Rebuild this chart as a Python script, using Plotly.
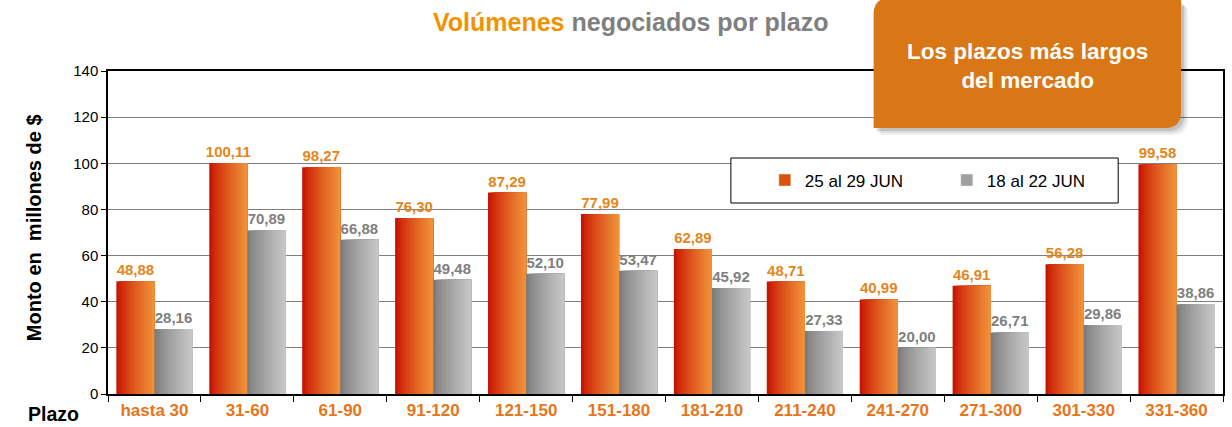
import plotly.graph_objects as go

categories = ["hasta 30", "31-60", "61-90", "91-120", "121-150", "151-180",
              "181-210", "211-240", "241-270", "271-300", "301-330", "331-360"]
serie_actual = [48.88, 100.11, 98.27, 76.30, 87.29, 77.99, 62.89, 48.71, 40.99, 46.91, 56.28, 99.58]
serie_anterior = [28.16, 70.89, 66.88, 49.48, 52.10, 53.47, 45.92, 27.33, 20.00, 26.71, 29.86, 38.86]
nombre_actual = "25 al 29 JUN"
nombre_anterior = "18 al 22 JUN"
y_ticks = [0, 20, 40, 60, 80, 100, 120, 140]

W, H = 1232, 427
ML, MR, MT, MB = 108, 7, 71, 33
PW = W - ML - MR
PH = H - MT - MB
FONT = "Liberation Sans, Arial, sans-serif"


def px(x):
    return (x - ML) / PW


def py(y):
    return (H - MB - y) / PH


def lerp(c1, c2, t):
    a = [int(c1[i:i + 2], 16) for i in (1, 3, 5)]
    b = [int(c2[i:i + 2], 16) for i in (1, 3, 5)]
    return "rgb(%d,%d,%d)" % tuple(round(a[k] + (b[k] - a[k]) * t) for k in range(3))


def fmt(v):
    return f"{v:.2f}".replace(".", ",")


fig = go.Figure()
BW = 0.41
N = 14
series = [
    (serie_actual, nombre_actual, -BW, "#C81400", "#F09038", "#D9530F", "#E3861B"),
    (serie_anterior, nombre_anterior, 0.0, "#7C7C7C", "#C6C6C6", "#A0A0A0", "#808080"),
]
for vals, name, off, c1, c2, cmid, tcol in series:
    for k in range(N):
        o = off + k * BW / N
        t = (k / (N - 1)) ** 0.8
        fig.add_trace(go.Bar(
            x=categories, y=vals, offset=o, width=[off + BW - o] * len(vals),
            marker=dict(color=lerp(c1, c2, t), line=dict(width=0)),
            showlegend=False, hoverinfo="skip", name=name,
        ))
    fig.add_trace(go.Bar(
        x=categories, y=vals, offset=off, width=[BW] * len(vals), name=name,
        marker=dict(color="rgba(0,0,0,0)", line=dict(width=0)),
        text=[fmt(v) for v in vals], textposition="outside", constraintext="none",
        cliponaxis=False, textfont=dict(family=FONT, size=15, color=tcol, weight="bold"),
        showlegend=False,
    ))
    fig.add_trace(go.Bar(
        x=[None], y=[None], name=name, marker=dict(color=cmid), showlegend=True,
    ))

shapes = []
shapes.append(dict(type="rect", xref="paper", yref="paper",
                   x0=px(732), x1=px(1120), y0=py(203), y1=py(158),
                   line=dict(color="black", width=1), fillcolor="white", layer="above"))


def callout_path(x0, y0, x1, y1, r1, r2, r3):
    pts = [
        f"M{px(x0)},{py(y0 + r1)}",
        f"Q{px(x0)},{py(y0)} {px(x0 + r1)},{py(y0)}",
        f"L{px(x1 - r3)},{py(y0)}",
        f"Q{px(x1)},{py(y0)} {px(x1)},{py(y0 + r3)}",
        f"L{px(x1)},{py(y1 - r2)}",
        f"Q{px(x1)},{py(y1)} {px(x1 - r2)},{py(y1)}",
        f"L{px(x0)},{py(y1)}",
        "Z",
    ]
    return " ".join(pts)


for d, op in [(7, 0.06), (5, 0.08), (3, 0.12)]:
    shapes.append(dict(type="path", xref="paper", yref="paper",
                       path=callout_path(875 + d, 0 + d, 1183 + d, 128 + d, 16, 16, 4),
                       line=dict(width=0), fillcolor=f"rgba(0,0,0,{op})", layer="above"))
shapes.append(dict(type="path", xref="paper", yref="paper",
                   path=callout_path(875, -2, 1183, 128, 16, 16, 4),
                   line=dict(width=0), fillcolor="#D97716", layer="above"))
fig.update_layout(shapes=shapes)

annotations = [
    dict(text="<b><span style='color:#F39200'>Volúmenes</span> negociados por plazo</b>",
         x=px(631), y=py(22), xref="paper", yref="paper", showarrow=False,
         font=dict(family=FONT, size=25, color="#7F7F7F"), xanchor="center", yanchor="middle"),
    dict(text="<b>Los plazos más largos<br>del mercado</b>",
         x=px(1029), y=py(66), xref="paper", yref="paper", showarrow=False,
         font=dict(family=FONT, size=22.5, color="white"), xanchor="center", yanchor="middle"),
    dict(text="<b>Monto en &nbsp;millones de $</b>", textangle=-90,
         x=px(34), y=py(228), xref="paper", yref="paper", showarrow=False,
         font=dict(family=FONT, size=20, color="black"), xanchor="center", yanchor="middle"),
    dict(text="<b>Plazo</b>",
         x=px(53), y=py(414), xref="paper", yref="paper", showarrow=False,
         font=dict(family=FONT, size=19.5, color="black"), xanchor="center", yanchor="middle"),
]
fig.update_layout(annotations=annotations)

fig.update_layout(
    width=W, height=H,
    margin=dict(l=ML, r=MR, t=MT, b=MB, pad=0),
    paper_bgcolor="white", plot_bgcolor="white",
    barmode="overlay",
    font=dict(family=FONT, color="black"),
    legend=dict(orientation="h", x=px(766), y=py(180.5), xanchor="left", yanchor="middle",
                bgcolor="rgba(0,0,0,0)", borderwidth=0, entrywidth=137,
                font=dict(family=FONT, size=17, color="black")),
    xaxis=dict(type="category", categoryorder="array", categoryarray=categories,
               range=[-0.5, len(categories) - 0.5],
               tickson="boundaries", ticks="outside", ticklen=6, tickcolor="black",
               showline=True, linecolor="black", linewidth=1.5, mirror=True,
               showgrid=False,
               tickfont=dict(family=FONT, size=17, color="#E8751A", weight="bold")),
    yaxis=dict(range=[0, 140], tickvals=y_ticks, ticks="outside", ticklen=5, tickcolor="black",
               showline=True, linecolor="black", linewidth=1.5, mirror=True,
               showgrid=True, gridcolor="#808080", gridwidth=1, zeroline=False,
               tickfont=dict(family=FONT, size=15, color="black")),
)

fig.write_html("out.html", config={"displayModeBar": False},
               post_script="document.body.style.margin='0px';")
